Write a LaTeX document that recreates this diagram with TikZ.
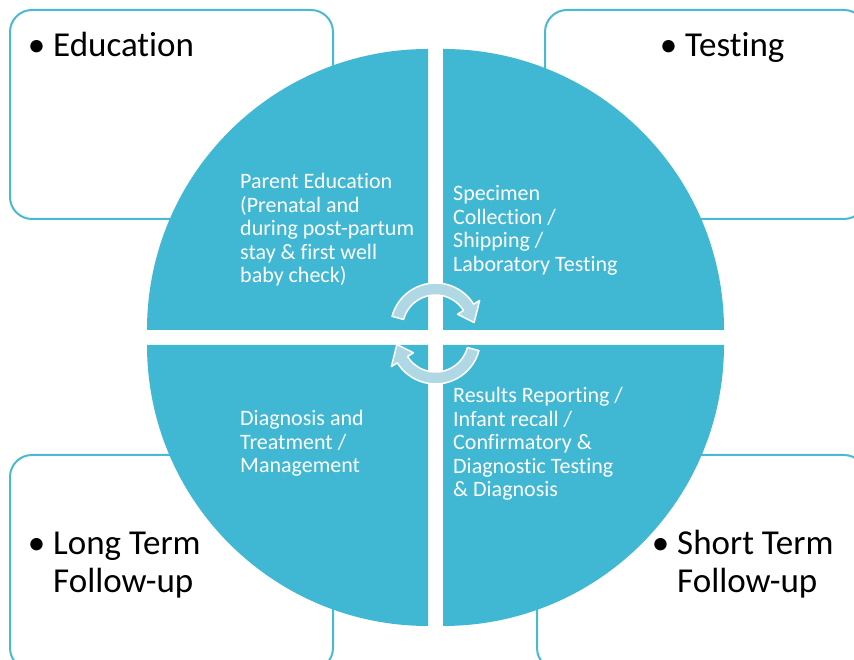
\documentclass[tikz,border=0pt]{standalone}
\usepackage{fontspec}
\setmainfont[Ligatures=NoCommon]{Carlito}
\definecolor{quad}{RGB}{65,184,211}
\definecolor{arrowfill}{RGB}{176,216,228}
\definecolor{boxline}{RGB}{75,185,210}
\begin{document}
\begin{tikzpicture}[x=1pt,y=1pt,
  cornerbox/.style={draw=boxline, line width=2pt, fill=white, rounded corners=22pt},
  quadrant/.style={fill=quad},
  cyclearrow/.style={fill=arrowfill, draw=white, line width=1.5pt, line join=round},
  quadtext/.style={anchor=base west, inner sep=0pt, align=left, text=white, font=\fontsize{22}{23.5}\selectfont},
  bigtext/.style={anchor=base west, inner sep=0pt, align=left, text=black, font=\fontsize{35}{38}\selectfont}]
\useasboundingbox (0,0) rectangle (854,660);
\clip (0,0) rectangle (854,660);
% corner boxes
\draw[cornerbox] (10,650) rectangle (333,441);
\draw[cornerbox] (545,650) rectangle (866,441);
\draw[cornerbox] (10,205) rectangle (333,-10);
\draw[cornerbox] (537,205) rectangle (866,-10);
% quadrants
\fill[quadrant] (428,330) -- (147,330) arc[start angle=180,end angle=90,radius=281] -- cycle;
\fill[quadrant] (443,330) -- (443,611) arc[start angle=90,end angle=0,radius=281] -- cycle;
\fill[quadrant] (428,315) -- (147,315) arc[start angle=180,end angle=270,radius=281] -- cycle;
\fill[quadrant] (443,315) -- (724,315) arc[start angle=0,end angle=-90,radius=281] -- cycle;
% cycle arrows
\begin{scope}[shift={(435.5,332)}]
\draw[cyclearrow] (165:45) arc[start angle=165,end angle=32,radius=45] -- (32:52) -- (8:39) -- (32:26) -- (32:33) arc[start angle=32,end angle=165,radius=33] -- cycle;
\end{scope}
\begin{scope}[shift={(435.5,321)},rotate=180]
\draw[cyclearrow] (165:45) arc[start angle=165,end angle=32,radius=45] -- (32:52) -- (8:39) -- (32:26) -- (32:33) arc[start angle=32,end angle=165,radius=33] -- cycle;
\end{scope}
% quadrant texts (anchor = baseline of last line)
\node[quadtext] (parent) at (240,377) {Parent Education\\(Prenatal and\\during post-partum\\stay \& first well\\baby check)};
\node[quadtext] (specimen) at (453,388.5) {Specimen\\Collection /\\Shipping /\\Laboratory Testing};
\node[quadtext] (diagnosis) at (240,187) {Diagnosis and\\Treatment /\\Management};
\node[quadtext] (results) at (453,163) {Results Reporting /\\Infant recall /\\Confirmatory \&\\Diagnostic Testing\\\& Diagnosis};
% box texts
\node[bigtext] (education) at (53,603) {\llap{\textbullet\ }Education};
\node[bigtext] (testing) at (685,603) {\llap{\textbullet\ }Testing};
\node[bigtext] (longterm) at (53,67) {\llap{\textbullet\ }Long Term\\Follow-up};
\node[bigtext] (shortterm) at (677,67) {\llap{\textbullet\ }Short Term\\Follow-up};
\end{tikzpicture}
\end{document}
